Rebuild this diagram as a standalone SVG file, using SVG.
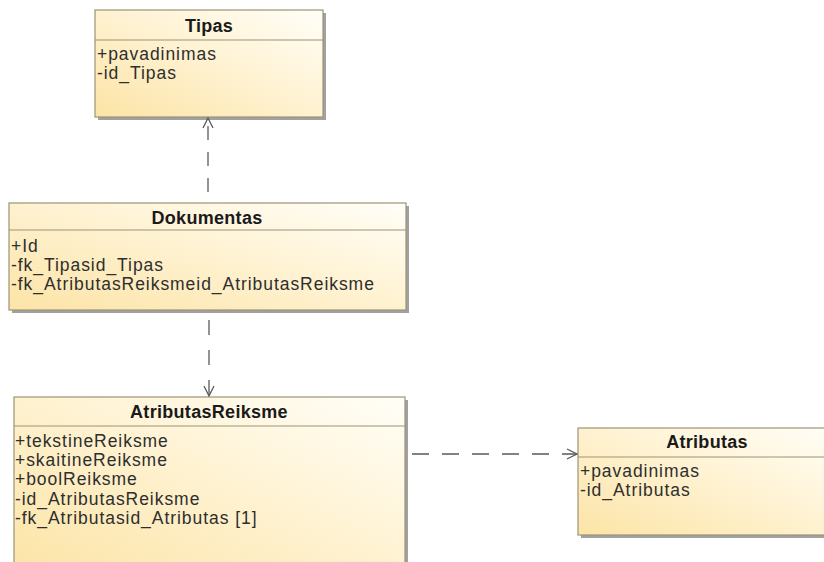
<svg xmlns="http://www.w3.org/2000/svg" width="824" height="562" viewBox="0 0 824 562">
  <style>
    .box { fill: url(#classFill); stroke: #9c9476; stroke-width: 1.2; }
    .shadow { fill: #8a8a8a; opacity: 0.8; }
    .sep { stroke: #9c9476; stroke-width: 1.2; }
    .title { font-family: "Liberation Sans", Arial, sans-serif; font-size: 18px; font-weight: bold; fill: #1a1a1a; text-anchor: middle; letter-spacing: 0.3px; }
    .attr { font-family: "Liberation Sans", Arial, sans-serif; font-size: 17.5px; fill: #2e2e2e; letter-spacing: 0.95px; }
    .dep { fill: none; stroke: #5a5a5a; stroke-width: 1.3; }
  </style>
  <defs>
    <linearGradient id="classFill" x1="0" y1="1" x2="1" y2="0">
      <stop offset="0" stop-color="#fce4a6"/>
      <stop offset="0.55" stop-color="#fff3d4"/>
      <stop offset="1" stop-color="#fffef8"/>
    </linearGradient>
    <marker id="openArrow" viewBox="0 0 12 12" refX="11" refY="6" markerWidth="12" markerHeight="12" markerUnits="userSpaceOnUse" orient="auto">
      <path d="M1,1 L11,6 L1,11" fill="none" stroke="#5a5a5a" stroke-width="1.3"/>
    </marker>
  </defs>

  <rect width="824" height="562" fill="#ffffff"/>

  <!-- Tipas -->
  <g id="Tipas">
    <rect class="shadow" x="98" y="13" width="228" height="107"/>
    <rect class="box" x="95" y="10" width="228" height="107"/>
    <line class="sep" x1="95" y1="40" x2="323" y2="40"/>
    <text class="title" x="209" y="32">Tipas</text>
    <text class="attr" x="97" y="60">+pavadinimas</text>
    <text class="attr" x="97" y="79">-id_Tipas</text>
  </g>

  <!-- Dokumentas -->
  <g id="Dokumentas">
    <rect class="shadow" x="12" y="206" width="397" height="107"/>
    <rect class="box" x="9" y="203" width="397" height="107"/>
    <line class="sep" x1="9" y1="230" x2="406" y2="230"/>
    <text class="title" x="207" y="224">Dokumentas</text>
    <text class="attr" x="11" y="252">+Id</text>
    <text class="attr" x="11" y="271">-fk_Tipasid_Tipas</text>
    <text class="attr" x="11" y="290">-fk_AtributasReiksmeid_AtributasReiksme</text>
  </g>

  <!-- AtributasReiksme -->
  <g id="AtributasReiksme">
    <rect class="shadow" x="17" y="400" width="391" height="175"/>
    <rect class="box" x="14" y="397" width="391" height="175"/>
    <line class="sep" x1="14" y1="426" x2="405" y2="426"/>
    <text class="title" x="209" y="418">AtributasReiksme</text>
    <text class="attr" x="15" y="447">+tekstineReiksme</text>
    <text class="attr" x="15" y="466">+skaitineReiksme</text>
    <text class="attr" x="15" y="485">+boolReiksme</text>
    <text class="attr" x="15" y="505">-id_AtributasReiksme</text>
    <text class="attr" x="15" y="524">-fk_Atributasid_Atributas [1]</text>
  </g>

  <!-- Atributas -->
  <g id="Atributas">
    <rect class="shadow" x="581" y="431" width="260" height="107"/>
    <rect class="box" x="578" y="428" width="260" height="107"/>
    <line class="sep" x1="578" y1="457" x2="838" y2="457"/>
    <text class="title" x="707" y="448">Atributas</text>
    <text class="attr" x="580" y="477">+pavadinimas</text>
    <text class="attr" x="580" y="496">-id_Atributas</text>
  </g>

  <!-- dependencies -->
  <g id="connectors">
    <path class="dep" d="M208,203 L208,118" stroke-dasharray="14,12" stroke-dashoffset="-11" marker-end="url(#openArrow)"/>
    <path class="dep" d="M209,310 L209,396" stroke-dasharray="15,15" stroke-dashoffset="-10" marker-end="url(#openArrow)"/>
    <path class="dep" d="M405,454 L577,454" stroke-dasharray="17,13" stroke-dashoffset="-7" marker-end="url(#openArrow)"/>
  </g>
</svg>
